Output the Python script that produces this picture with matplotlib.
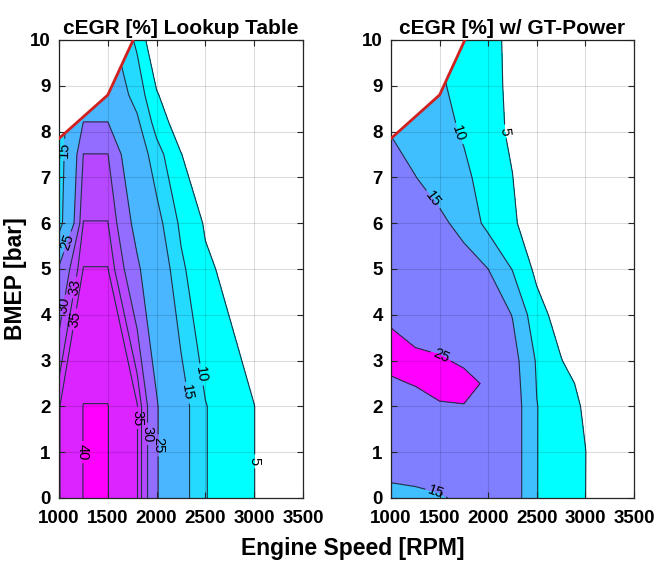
import numpy as np
import matplotlib
matplotlib.use('Agg')
import matplotlib.pyplot as plt
from matplotlib.patches import Polygon

plt.rcParams['font.family'] = ['Liberation Sans', 'DejaVu Sans']

# max torque line (speed in rpm, BMEP in bar)
wot_speed = [1000, 1500, 1760]
wot_bmep = [7.85, 8.8, 10.0]

# cEGR lookup table
lut_speed = [1000, 1250, 1500, 1800, 2000, 2250, 2500, 3000, 3500]
lut_bmep = [0, 2, 5, 6, 7.5, 8.2, 8.8, 10]
lut_cegr = [
    [34.8, 40.1, 40.1, 35.2, 25.5, 17.6, 10.2, 5.05, 0],
    [34.8, 40.1, 40.1, 35.2, 25.5, 17.6, 10.2, 5.05, 0],
    [26.0, 35.1, 35.1, 26.0, 20.0, 11.0, 5.8, 2.0, 0],
    [12.0, 33.1, 33.1, 23.0, 17.0, 9.0, 4.5, 0, 0],
    [11.0, 30.1, 30.1, 19.0, 12.0, 5.2, 0, 0, 0],
    [11.5, 25.1, 25.1, 16.0, 8.0, 2.0, 0, 0, 0],
    [11.0, 20.0, 20.0, 13.0, 5.5, 0, 0, 0, 0],
    [10.5, 18.0, 17.0, 9.0, 0, 0, 0, 0, 0],
]
lut_levels = [5, 10, 15, 25, 30, 33, 35, 40]

# cEGR from GT-Power simulation
gt_speed = [1000, 1250, 1500, 1750, 2000, 2250, 2500, 2750, 3000, 3250, 3500]
gt_bmep = [0, 1, 2, 2.5, 3, 4, 5, 6, 7, 8, 9, 10]
gt_cegr = [
    [14.0, 14.0, 14.5, 16.0, 17.0, 18.0, 10.1, 7.5, 5.05, 0, 0],
    [17.0, 18.0, 19.0, 19.0, 19.0, 18.0, 10.1, 7.6, 5.1, 0, 0],
    [23.0, 23.5, 24.7, 24.9, 23.0, 18.0, 10.1, 7.8, 4.3, 0, 0],
    [24.5, 25.2, 26.0, 25.8, 24.6, 17.5, 9.8, 6.5, 3.8, 0, 0],
    [26.0, 25.6, 25.3, 24.6, 23.0, 17.0, 9.5, 5.2, 1.5, 0, 0],
    [24.6, 23.5, 23.0, 21.0, 19.0, 14.8, 7.0, 2.8, 0, 0, 0],
    [22.0, 20.0, 18.5, 17.0, 15.0, 9.8, 3.8, 0, 0, 0, 0],
    [18.0, 16.5, 16.0, 13.5, 8.6, 6.0, 1.0, 0, 0, 0, 0],
    [16.0, 15.1, 13.0, 11.0, 8.0, 5.1, 0, 0, 0, 0, 0],
    [14.9, 13.0, 11.5, 9.5, 7.0, 4.1, 0, 0, 0, 0, 0],
    [14.0, 12.0, 10.8, 8.0, 6.5, 4.0, 0, 0, 0, 0, 0],
    [13.0, 11.5, 10.0, 7.5, 6.0, 4.2, 0, 0, 0, 0, 0],
]
gt_levels = [5, 10, 15, 25]

lut_label_pos = [(1060, 7.6), (1075, 5.6), (1045, 4.2), (1150, 4.6), (1170, 3.9),
                 (1245, 1.0), (1804, 1.75), (1907, 1.4), (2016, 1.15),
                 (2320, 2.3), (2470, 2.7), (3008, 0.8)]
gt_label_pos = [(1690, 7.95), (2165, 8.0), (1420, 6.5), (1504, 3.06), (1483, 0.28)]


def draw_map(ax, speed, bmep, cegr, levels, label_pos, title):
    z = np.array(cegr)
    cmap = plt.get_cmap('cool')
    lo, hi = levels[0], levels[-1]
    colors = [cmap((v - lo) / (hi - lo)) for v in levels]
    bounds = list(levels) + [100]

    cf = ax.contourf(speed, bmep, z, levels=bounds, colors=colors)
    cs = ax.contour(speed, bmep, z, levels=levels, colors='#1d3447', linewidths=0.8)

    # only the region under the max torque line is valid
    verts = [(3500, 0), (speed[0], 0)] + list(zip(wot_speed, wot_bmep)) + [(3500, 10)]
    clip = Polygon(verts, closed=True, transform=ax.transData)
    cf.set_clip_path(clip)
    cs.set_clip_path(clip)
    ax.clabel(cs, fmt='%d', fontsize=10.5, colors='k', inline=True,
              manual=label_pos, inline_spacing=3)

    ax.plot(wot_speed, wot_bmep, color='#d02020', lw=2, zorder=5)

    ax.set_xlim(1000, 3500)
    ax.set_ylim(0, 10)
    ax.set_xticks([1000, 1500, 2000, 2500, 3000, 3500])
    ax.set_yticks(range(0, 11))
    ax.grid(True, color='k', alpha=0.13, lw=0.8)
    ax.set_axisbelow(False)
    ax.tick_params(direction='in', top=True, right=True, length=4,
                   labelsize=13.5, width=0.8, color='#262626')
    ax.tick_params(axis='x', pad=9)
    ax.tick_params(axis='y', pad=6)
    for lbl in ax.get_xticklabels() + ax.get_yticklabels():
        lbl.set_fontweight('bold')
    for sp in ax.spines.values():
        sp.set_color('#262626')
        sp.set_linewidth(0.9)
    ax.set_title(title, fontweight='bold', fontsize=15, pad=4)


fig = plt.figure(figsize=(6.6, 5.61), dpi=100)
ax1 = fig.add_axes([0.0894, 0.1123, 0.3697, 0.8164])
ax2 = fig.add_axes([0.5924, 0.1123, 0.3682, 0.8164])

draw_map(ax1, lut_speed, lut_bmep, lut_cegr, lut_levels, lut_label_pos,
         'cEGR [%] Lookup Table')
draw_map(ax2, gt_speed, gt_bmep, gt_cegr, gt_levels, gt_label_pos,
         'cEGR [%] w/ GT-Power')

fig.text(0.023, 0.504, 'BMEP [bar]', rotation=90, ha='center', va='center',
         fontweight='bold', fontsize=16.5)
fig.text(0.535, 0.023, 'Engine Speed [RPM]', ha='center', va='center',
         fontweight='bold', fontsize=16.5)

fig.savefig('out.png', dpi=100)
